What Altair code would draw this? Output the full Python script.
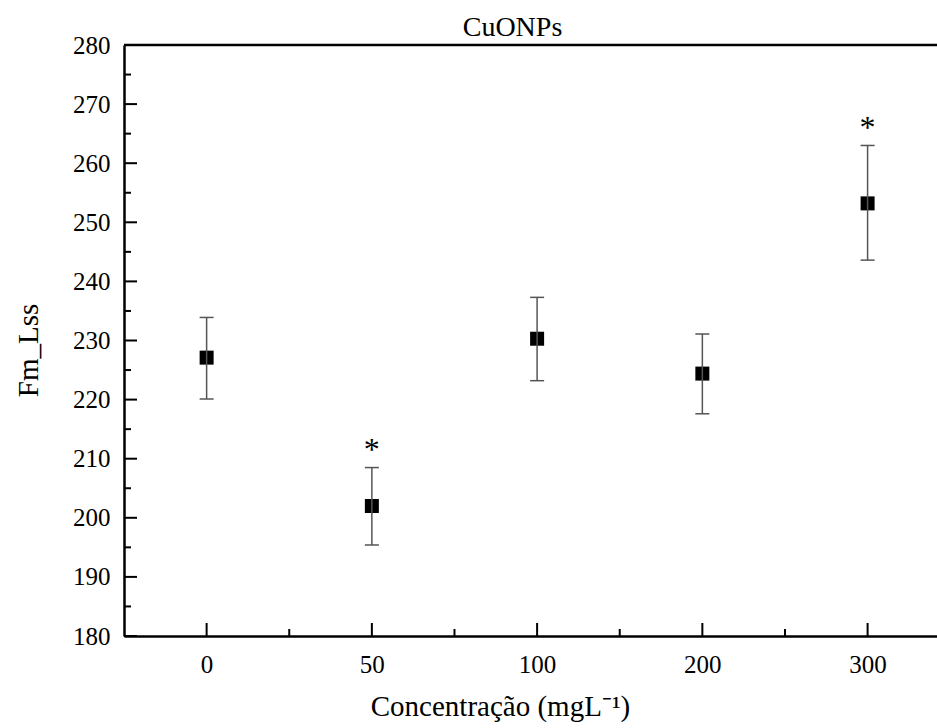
import altair as alt
import pandas as pd

# ---- data ----
conc_labels = ["0", "50", "100", "200", "300"]
means = [227.1, 202.0, 230.3, 224.4, 253.2]
lower = [220.1, 195.4, 223.2, 217.6, 243.6]
upper = [233.9, 208.5, 237.3, 231.1, 263.0]
significant = [False, True, False, False, True]

# tick positions
y_major = list(range(180, 281, 10))
y_minor = list(range(185, 280, 10))
x_major = [0, 1, 2, 3, 4]
x_minor = [0.5, 1.5, 2.5, 3.5]

W, H = 813, 591
FONT = "Liberation Serif"

df = pd.DataFrame({
    "idx": list(range(len(conc_labels))),
    "conc": conc_labels,
    "mean": means,
    "lo": lower,
    "hi": upper,
    "sig": significant,
})

xs = alt.Scale(domain=[-0.5, 4.42], nice=False, zero=False)
ys = alt.Scale(domain=[180, 280], nice=False, zero=False)

label_expr = "[" + ",".join("'%s'" % l for l in conc_labels) + "][datum.value]"

x_axis = alt.Axis(
    values=x_major, labelExpr=label_expr, ticks=False, grid=False,
    domainColor="black", domainWidth=2.5,
    labelFont=FONT, labelFontSize=25, labelColor="black", labelPadding=16,
    title="Concentração (mgL⁻¹)", titleFont=FONT, titleFontSize=29,
    titleFontWeight="normal", titleColor="black",
    titleX=376, titleY=79, titleAlign="center", titleBaseline="alphabetic",
)
y_axis = alt.Axis(
    values=y_major, ticks=False, grid=False,
    domainColor="black", domainWidth=2.5,
    labelFont=FONT, labelFontSize=25, labelColor="black", labelPadding=14,
    title="Fm_Lss", titleFont=FONT, titleFontSize=29,
    titleFontWeight="normal", titleColor="black",
    titleAngle=270, titleX=-96, titleY=305, titleAlign="center",
    titleBaseline="middle",
)

def X(field, axis=None):
    return alt.X(field, scale=xs, axis=axis)

def Y(field, axis=None):
    return alt.Y(field, scale=ys, axis=axis)

base = alt.Chart(df)

# the only layer that carries the axes
pts = base.mark_square(size=196, color="black", opacity=1).encode(
    x=X("idx:Q", x_axis), y=Y("mean:Q", y_axis),
)

err = base.mark_rule(color="#555555", strokeWidth=1.5).encode(
    x=X("idx:Q"), y=Y("lo:Q"), y2="hi:Q",
)

caps = base.transform_fold(["lo", "hi"], as_=["k", "v"]).mark_tick(
    orient="horizontal", size=14, thickness=1.5, color="#555555", opacity=1
).encode(x=X("idx:Q"), y=Y("v:Q"))

stars = base.transform_filter("datum.sig").mark_text(
    text="*", font=FONT, fontSize=32, color="black", baseline="alphabetic", dy=-7.5
).encode(x=X("idx:Q"), y=Y("hi:Q"))

ymaj = alt.Chart(pd.DataFrame({"v": y_major})).mark_rule(color="black", strokeWidth=2).encode(
    y=Y("v:Q"), x=alt.value(0), x2=alt.value(13)
)
ymin = alt.Chart(pd.DataFrame({"v": y_minor})).mark_rule(color="black", strokeWidth=2).encode(
    y=Y("v:Q"), x=alt.value(0), x2=alt.value(7)
)
xmaj = alt.Chart(pd.DataFrame({"p": x_major})).mark_rule(color="black", strokeWidth=2).encode(
    x=X("p:Q"), y=alt.value(H), y2=alt.value(H - 13)
)
xmin = alt.Chart(pd.DataFrame({"p": x_minor})).mark_rule(color="black", strokeWidth=2).encode(
    x=X("p:Q"), y=alt.value(H), y2=alt.value(H - 7)
)
top = alt.Chart(pd.DataFrame({"v": [280]})).mark_rule(color="black", strokeWidth=2.5).encode(
    y=Y("v:Q"), x=alt.value(0), x2=alt.value(W)
)

chart = alt.layer(pts, err, caps, stars, ymaj, ymin, xmaj, xmin, top).resolve_axis(
    x="independent", y="independent"
).properties(
    width=W, height=H,
    title=alt.TitleParams(
        "CuONPs", font=FONT, fontSize=28, fontWeight="normal", color="black",
        anchor="middle", frame="group", dx=-18, offset=9, baseline="alphabetic",
        dy=40,
    ),
    autosize=alt.AutoSizeParams(type="none"),
    padding={"left": 124, "top": 45, "right": 0, "bottom": 92},
    background="white",
).configure_view(stroke=None).configure_axis(
    labelFont=FONT, labelFontSize=25, labelColor="black",
    titleFont=FONT, titleColor="black", titleFontWeight="normal",
)

chart.save("out.html", embed_options={"renderer": "svg", "actions": False})
